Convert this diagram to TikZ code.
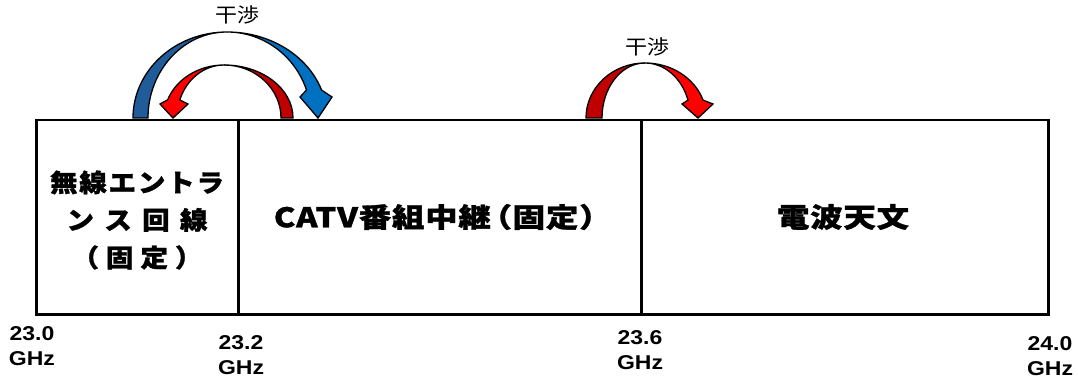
\documentclass[tikz,border=0pt]{standalone}
\usepackage{fontspec}
\newfontfamily\jp[FakeStretch=1.2,LetterSpace=3,BoldFeatures={FakeBold=1.2}]{Noto Sans CJK JP}
\newfontfamily\jpl[FakeStretch=1.1,BoldFeatures={FakeBold=1.2}]{Noto Sans CJK JP}
\newfontfamily\jpn[FakeStretch=1.1]{Noto Sans CJK JP}
\newfontfamily\num[FakeStretch=1.15]{Liberation Sans}
\definecolor{blueD}{HTML}{1F5C99}
\definecolor{blueL}{HTML}{0070C0}
\definecolor{redD}{HTML}{C00000}
\definecolor{redL}{HTML}{FF0000}
% blue arrow: tail crescent (left) and front crescent with head (right)
\def\blueTail{(133,-118) arc[start angle=180,end angle=90,x radius=94,y radius=86] arc[start angle=90,end angle=180,x radius=79,y radius=86] -- cycle}
\def\blueFront{(227,-32) arc[start angle=90,end angle=19,x radius=100,y radius=86] -- (332,-97) -- (318,-118) -- (300,-97) -- (306.5,-90) arc[start angle=19,end angle=90,x radius=84,y radius=86] -- cycle}
% inner red arrow: tail on right, head on left
\def\redATail{(293,-118) arc[start angle=0,end angle=90,x radius=69,y radius=53] arc[start angle=90,end angle=0,x radius=57,y radius=53] -- cycle}
\def\redAFront{(224,-65) arc[start angle=90,end angle=160,x radius=60,y radius=53] -- (160,-104) -- (173,-118) -- (188,-104) -- (179.8,-99.9) arc[start angle=160,end angle=90,x radius=47,y radius=53] -- cycle}
% right red arrow: tail on left, head on right
\def\redBTail{(586,-118) arc[start angle=180,end angle=90,x radius=59,y radius=55] arc[start angle=90,end angle=180,x radius=43,y radius=55] -- cycle}
\def\redBFront{(645,-63) arc[start angle=90,end angle=19,x radius=61.4,y radius=55] -- (713,-104) -- (698,-118) -- (682,-104) -- (688,-100.1) arc[start angle=19,end angle=90,x radius=45.5,y radius=55] -- cycle}
\newcommand\spreadline[2]{\makebox[#1]{#2}}
\begin{document}
\begin{tikzpicture}[x=1pt,y=1pt,
  band/.style={draw=black, line width=2.5pt, anchor=north west, inner sep=0pt, minimum height=194pt},
  bandtext/.style={font=\jp\bfseries\fontsize{27}{38}\selectfont, align=center, inner sep=0pt},
  lefttext/.style={font=\jpl\bfseries\fontsize{25}{37.5}\selectfont, align=center, inner sep=0pt},
  freq/.style={font=\num\bfseries\fontsize{20}{25.5}\selectfont, align=center, inner sep=0pt},
  note/.style={font=\jpn\fontsize{20}{24}\selectfont, inner sep=0pt},
  arrowline/.style={draw=black, line width=1.3pt, line join=miter}]
\useasboundingbox (0,0) rectangle (1078,-379);
\node[band, minimum width=202pt] (b1) at (35,-119) {};
\node[band, minimum width=403pt] (b2) at (237,-119) {};
\node[band, minimum width=407pt] (b3) at (640,-119) {};
\node[lefttext] (t1) at (137,-220) {%
  \spreadline{174pt}{無\hfill 線\hfill エ\hfill ン\hfill ト\hfill ラ}\\
  \spreadline{141pt}{ン\hfill ス\hfill 回\hfill 線}\\
  \spreadline{131pt}{（\hfill 固\hfill 定\hfill ）}};
\node[bandtext] (t2) at (437,-217) {CATV番組中継\hspace{-0.42em}（固定）\hspace{-0.42em}};
\node[bandtext] (t3) at (843,-217) {電波天文};
\node[freq] (f1) at (32,-346) {23.0\\GHz};
\node[freq] (f2) at (241,-355) {23.2\\GHz};
\node[freq] (f3) at (640,-350) {23.6\\GHz};
\node[freq] (f4) at (1050,-356) {24.0\\GHz};
\node[note] (n1) at (237,-15) {干渉};
\node[note] (n2) at (647,-47) {干渉};
% blue arrow
\filldraw[fill=blueD, arrowline] \blueTail;
\filldraw[fill=blueL, arrowline] \blueFront;
% inner red arrow
\filldraw[fill=redD, arrowline] \redATail;
\filldraw[fill=redL, arrowline] \redAFront;
% right red arrow
\filldraw[fill=redD, arrowline] \redBTail;
\filldraw[fill=redL, arrowline] \redBFront;
\end{tikzpicture}
\end{document}
